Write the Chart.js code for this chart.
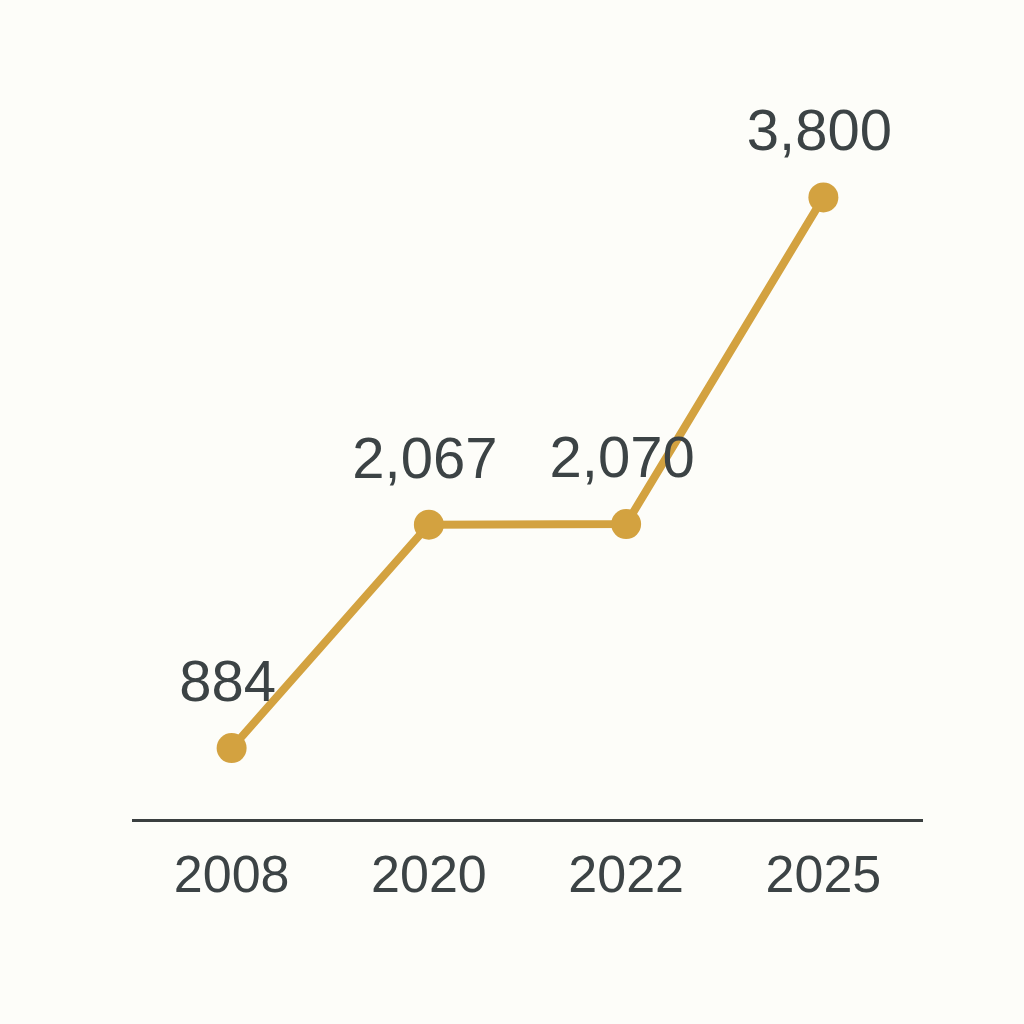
<!DOCTYPE html>
<html>
<head>
<meta charset="utf-8">
<script src="https://cdn.jsdelivr.net/npm/chart.js@4/dist/chart.umd.min.js"></script>
<style>
  html, body { margin: 0; padding: 0; background: #fdfdf9; }
  .wrap { width: 1024px; height: 1024px; }
</style>
</head>
<body>
<div class="wrap"><canvas id="myChart" width="1024" height="1024"></canvas></div>
<script>
const years = ["2008", "2020", "2022", "2025"];
const totals = [884, 2067, 2070, 3800];

const lineColor = "#d3a240";
const textColor = "#3c4345";

// labels above each point (no datalabels plugin available)
const valueLabels = {
  id: "valueLabels",
  afterDatasetsDraw(chart) {
    const c = chart.ctx;
    const meta = chart.getDatasetMeta(0);
    c.save();
    c.font = "58px 'Liberation Sans', Arial, sans-serif";
    c.fillStyle = textColor;
    c.textAlign = "center";
    c.textBaseline = "bottom";
    meta.data.forEach(function(pt, i) {
      c.fillText(totals[i].toLocaleString("en-US"), pt.x - 4, pt.y - 34);
    });
    c.restore();
  }
};

let ctx = document.getElementById("myChart").getContext("2d");
let myChart = new Chart(ctx, {
  type: "line",
  data: {
    labels: years,
    datasets: [
      {
        data: totals,
        borderColor: lineColor,
        backgroundColor: lineColor,
        borderWidth: 8,
        pointRadius: 15,
        pointHoverRadius: 15,
        pointBorderWidth: 0,
        tension: 0,
        borderJoinStyle: "round",
        borderCapStyle: "round",
      },
    ],
  },
  options: {
    responsive: false,
    animation: false,
    layout: { padding: { left: 133, right: 102, top: 103, bottom: 89 } },
    plugins: { legend: { display: false }, tooltip: { enabled: false } },
    scales: {
      x: {
        offset: true,
        grid: { display: false, drawTicks: false },
        border: { display: true, color: "#3a3f40", width: 3 },
        ticks: {
          color: textColor,
          padding: 26,
          font: { size: 52, family: "'Liberation Sans', Arial, sans-serif" },
        },
      },
      y: {
        display: false,
        min: 500,
        max: 4300,
      },
    },
  },
  plugins: [valueLabels],
});
</script>
</body>
</html>
